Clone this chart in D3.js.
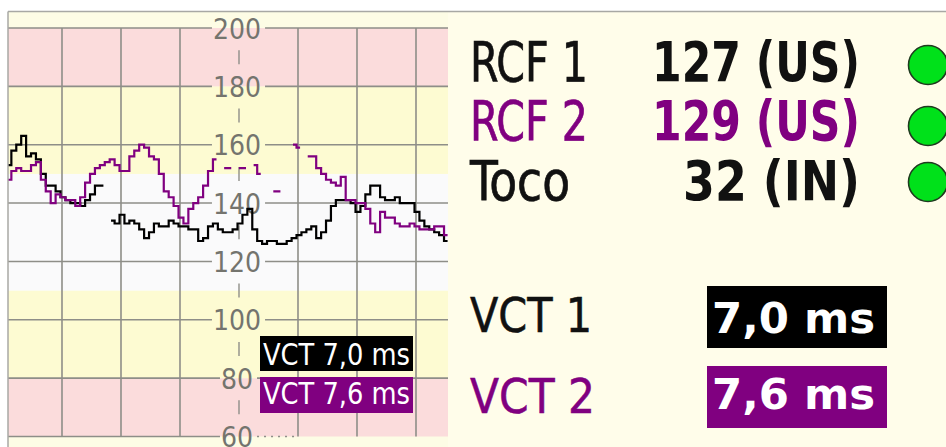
<!DOCTYPE html>
<html>
<head>
<meta charset="utf-8">
<script src="https://cdn.jsdelivr.net/npm/d3@7"></script>
<style>
  html, body { margin: 0; padding: 0; background: #ffffff; }
  svg { display: block; }
  text { font-family: "DejaVu Sans Condensed", "DejaVu Sans", sans-serif; }
</style>
</head>
<body>
<svg id="ctg" width="946" height="447"></svg>
<script>
// Fetal heart rate traces (bpm), one sample every 5 s starting at 0.1 min
const sampleStartMin = 0.1;
const samplesPerMin = 12;

const fhr1 = [
  153, 158, 160, 163, 156, 157, 155, 150, 146, 146,
  144, 142, 141, 140, 140, 139, 141, 143, 146, 146,
  null, 134, 133, 136, 133, 134, 133, 131, 128, 130,
  133, 132, 132, 134, 133, 132, 132, 131, 131, 127,
  128, 132, 133, 131, 130, 130, 131, 133, 136, 138,
  131, 127, 126, 127, 127, 126, 126, 127, 128, 129,
  130, 131, 132, 128, 130, 134, 139, 141, 141, 141,
  140, 137, 139, 143, 146, 146, 142, 141, 141, 142,
  140, 140, 140, 137, 134, 132, 131, 130, 129, 127
];

const fhr2 = [
  148, 151, 152, 151, 151, 153, 154, 148, 144, 140,
  143, 142, 141, 141, 139, 142, 147, 150, 152, 153,
  154, 155, 153, 151, 151, 156, 158, 160, 159, 156,
  155, 150, 144, 142, 139, 135, 133, 138, 140, 142,
  146, 151, 155, null, 152, 152, null, 152, 152, null,
  153, 150, null, null, 144, 144, null, null, 160, 159,
  null, 156, 156, 152, 150, 148, 147, 146, 149, 141,
  141, 140, 140, 138, 133, 130, 137, 135, 135, 133,
  132, 132, 133, 132, 131, 131, 131, 132, 132, 129
];

const yTicks = [60, 80, 100, 120, 140, 160, 180, 200];
const zoneEdges = [60, 80, 110, 150, 180, 200];

const channels = ["RCF 1", "RCF 2", "Toco"];
const tocoValue = 32;
const sources = ["US", "US", "IN"];
const vctNames = ["VCT 1", "VCT 2"];
const vctValues = ["7,0", "7,6"];

// ---------------------------------------------------------------------------
const svg = d3.select("#ctg");
const W = 946, H = 447;
const plotL = 8, plotR = 448, plotT = 12;

const x = d3.scaleLinear().domain([0, 7.6]).range([3, 3 + 59 * 7.6]);
const y = d3.scaleLinear().domain([60, 200]).range([436.5, 28]);

const colPink = "#fbdcdc", colYellow = "#fdfbd2", colWhite = "#fafafb",
      colCream = "#fdfce5", colPanel = "#fffdea", colGrid = "#8e8e88";
const purple = "#800080";

// page
svg.append("rect").attr("width", W).attr("height", H).attr("fill", "#ffffff");
svg.append("rect").attr("x", plotR).attr("y", plotT)
  .attr("width", W - plotR).attr("height", H - plotT).attr("fill", colPanel);
svg.append("rect").attr("x", plotL).attr("y", plotT)
  .attr("width", plotR - plotL).attr("height", H - plotT).attr("fill", colCream);

// clinical zones
const zoneColors = [colPink, colYellow, colWhite, colYellow, colPink];
d3.pairs(zoneEdges).forEach(([lo, hi], i) => {
  svg.append("rect")
    .attr("x", plotL).attr("width", plotR - plotL)
    .attr("y", y(hi)).attr("height", y(lo) - y(hi))
    .attr("fill", zoneColors[i]);
});

// vertical minute lines
const minuteLines = d3.range(1, 8).filter(m => m !== 4);
svg.append("g").selectAll("line").data(minuteLines).join("line")
  .attr("x1", d => x(d)).attr("x2", d => x(d))
  .attr("y1", y(200)).attr("y2", y(60))
  .attr("stroke", colGrid).attr("stroke-width", 1.6);

// axis labels in the middle of the strip
const axisX = x(4);
const lblG = svg.append("g");
const labels = lblG.selectAll("text").data(yTicks).join("text")
  .attr("x", axisX - 2).attr("y", d => y(d) + 10.5)
  .attr("text-anchor", "middle")
  .attr("font-size", 28).attr("fill", "#74746e")
  .text(d => d);

// horizontal lines broken around their labels
const gridG = svg.insert("g", () => lblG.node());
labels.each(function (d) {
  const b = this.getBBox();
  const yy = y(d);
  gridG.append("line").attr("x1", plotL).attr("x2", b.x - 1)
    .attr("y1", yy).attr("y2", yy)
    .attr("stroke", colGrid).attr("stroke-width", 1.6);
  const right = gridG.append("line").attr("x1", b.x + b.width + 4)
    .attr("x2", d === 60 ? b.x + b.width + 44 : plotR)
    .attr("y1", yy).attr("y2", yy)
    .attr("stroke", colGrid).attr("stroke-width", 1.6);
  if (d === 60) right.attr("stroke-dasharray", "2,5");
});

// small axis ticks between labels
const midTicks = d3.range(70, 200, 20);
svg.append("g").selectAll("line").data(midTicks).join("line")
  .attr("x1", axisX).attr("x2", axisX)
  .attr("y1", d => y(d) - 7).attr("y2", d => y(d) + 7)
  .attr("stroke", colGrid).attr("stroke-width", 1.4);

// traces
svg.append("clipPath").attr("id", "plotClip")
  .append("rect").attr("x", plotL).attr("y", plotT)
  .attr("width", plotR - plotL).attr("height", H - plotT);

const toPoints = arr => arr.map((v, i) => ({ t: sampleStartMin + i / samplesPerMin, v }));
const line = d3.line()
  .defined(d => d.v != null)
  .curve(d3.curveStep)
  .x(d => x(d.t)).y(d => y(d.v));

const traceG = svg.append("g").attr("clip-path", "url(#plotClip)");
traceG.append("path").attr("d", line(toPoints(fhr1)))
  .attr("fill", "none").attr("stroke", "#000000").attr("stroke-width", 2.2)
  .attr("stroke-linejoin", "miter").attr("stroke-linecap", "square");
traceG.append("path").attr("d", line(toPoints(fhr2)))
  .attr("fill", "none").attr("stroke", purple).attr("stroke-width", 2.2)
  .attr("stroke-linejoin", "miter").attr("stroke-linecap", "square");

// VCT tags on the strip
const tagColors = ["#000000", purple];
const tagBoxes = [[260, 336, 153, 35, 365], [260, 377, 153, 36, 404]];
vctValues.forEach((v, i) => {
  const [bx, by, bw, bh, base] = tagBoxes[i];
  svg.append("rect").attr("x", bx).attr("y", by).attr("width", bw).attr("height", bh)
    .attr("fill", tagColors[i]);
  svg.append("text").attr("x", bx + 3).attr("y", base)
    .attr("font-size", 30).attr("fill", "#ffffff")
    .attr("textLength", 147).attr("lengthAdjust", "spacingAndGlyphs")
    .text(`VCT ${v} ms`);
});

// frame
svg.append("line").attr("x1", plotL).attr("x2", W).attr("y1", 11.5).attr("y2", 11.5)
  .attr("stroke", "#a8a8a4").attr("stroke-width", 1.5);
svg.append("line").attr("x1", plotL).attr("x2", plotL).attr("y1", 11.5).attr("y2", H)
  .attr("stroke", "#a8a8a4").attr("stroke-width", 1.5);

// readout panel: tall type, stretched vertically
const chanColors = ["#111111", purple, "#111111"];
const rowBase = [81, 140, 200];
const nameLen = [118, 118, 100];
const currentValues = [fhr1[fhr1.length - 1], fhr2[fhr2.length - 1], tocoValue];
const valueLen = [208, 208, 177];
const dotY = [65, 126, 182];

channels.forEach((c, i) => {
  svg.append("text")
    .attr("transform", `translate(470,${rowBase[i]}) scale(1,1.17)`)
    .attr("font-size", 47).attr("fill", chanColors[i])
    .attr("stroke", chanColors[i]).attr("stroke-width", 0.6)
    .attr("textLength", nameLen[i]).attr("lengthAdjust", "spacingAndGlyphs")
    .text(c);
  svg.append("text")
    .attr("transform", `translate(860,${rowBase[i]}) scale(1,1.17)`)
    .attr("text-anchor", "end")
    .attr("font-size", 47).attr("font-weight", "bold").attr("fill", chanColors[i])
    .attr("textLength", valueLen[i]).attr("lengthAdjust", "spacingAndGlyphs")
    .text(`${currentValues[i]} (${sources[i]})`);
  svg.append("circle").attr("cx", 928).attr("cy", dotY[i]).attr("r", 19.5)
    .attr("fill", "#00e11a").attr("stroke", "#1f3a1f").attr("stroke-width", 1.6);
});

const vctBase = [332, 413];
const vctNameLen = [122, 125];
const vctBoxY = [286, 366];
const vctValBase = [333, 409];
vctNames.forEach((n, i) => {
  svg.append("text")
    .attr("transform", `translate(470,${vctBase[i]}) scale(1,1.04)`)
    .attr("font-size", 46).attr("fill", i ? purple : "#111111")
    .attr("stroke", i ? purple : "#111111").attr("stroke-width", 0.5)
    .attr("textLength", vctNameLen[i]).attr("lengthAdjust", "spacingAndGlyphs")
    .text(n);
  svg.append("rect").attr("x", 707).attr("y", vctBoxY[i]).attr("width", 180).attr("height", 62)
    .attr("fill", tagColors[i]);
  svg.append("text").attr("x", 712).attr("y", vctValBase[i])
    .attr("font-size", 42).attr("font-weight", "bold").attr("fill", "#ffffff")
    .attr("textLength", 163).attr("lengthAdjust", "spacingAndGlyphs")
    .text(`${vctValues[i]} ms`);
});
</script>
</body>
</html>
